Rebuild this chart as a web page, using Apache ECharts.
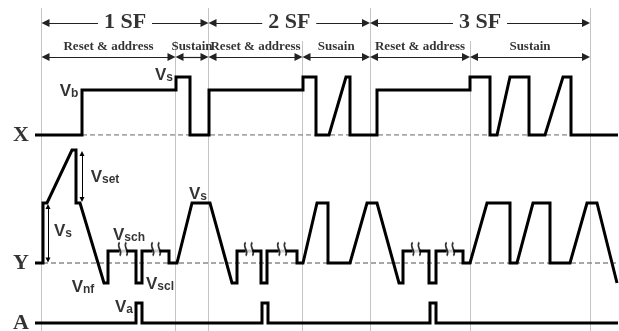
<!DOCTYPE html>
<html>
<head>
<meta charset="utf-8">
<script src="https://cdn.jsdelivr.net/npm/echarts@6/dist/echarts.min.js"></script>
<style>
html,body{margin:0;padding:0;background:#fff;}
#chart{width:619px;height:331px;}
</style>
</head>
<body>
<div id="chart"></div>
<script>
// ---------- data ----------
// time boundaries of sub-fields and phases
const sfBounds = [41.5, 208.5, 370, 590];
const sfLabels = ['1 SF', '2 SF', '3 SF'];
const phaseBounds = [41.5, 175.5, 208.5, 302.5, 370, 470, 590];
const phaseLabels = ['Reset & address', 'Sustain', 'Reset & address', 'Susain', 'Reset & address', 'Sustain'];

// X electrode waveform (time, level)
const xTimes  = [35, 82, 82, 176, 176, 190, 190, 209, 209, 303, 303, 316, 316, 329, 346, 350, 350, 377, 377, 470, 470, 490, 490, 497, 510, 529, 529, 545, 563, 571, 571, 618];
const xLevels = [0, 0, 45, 45, 58, 58, 0, 0, 45, 45, 58, 58, 0, 0, 58, 58, 0, 0, 45, 45, 58, 58, 0, 0, 58, 58, 0, 0, 58, 58, 0, 0];

// Y electrode waveform
const yTimes  = [35, 43, 43, 47, 72, 76, 76, 80, 104, 108, 108, 136, 136, 142, 142, 169, 169, 177, 192, 210, 232, 237, 237, 261, 261, 267, 267, 297, 297, 303, 317, 328, 328, 350, 367, 377, 399, 403, 403, 429, 429, 436, 436, 463, 463, 470, 487, 510, 510, 517, 533, 550, 550, 570, 587, 597, 617];
const yLevels = [0, 0, 60, 60, 113, 113, 60, 60, -20, -20, 12, 12, -20, -20, 12, 12, 0, 0, 60, 60, -20, -20, 12, 12, -20, -20, 12, 12, 0, 0, 60, 60, 0, 0, 60, 60, -20, -20, 12, 12, -20, -20, 12, 12, 0, 0, 60, 60, 0, 0, 60, 60, 0, 0, 60, 60, -20];

// A electrode waveform
const aTimes  = [35, 136, 136, 142, 142, 262, 262, 268, 268, 430, 430, 436, 436, 618];
const aLevels = [0, 0, 20, 20, 0, 0, 20, 20, 0, 0, 20, 20, 0, 0];

// break marks on the Vsch level
const breakTimes = [123, 156, 249, 282, 416, 450];
const vschLevel = 12;

// voltage labels: time, level, subscript
const xNotes = [[69, 44, 'b'], [164, 60, 's']];
const yNotes = [[105, 86, 'set'], [63, 32, 's'], [129, 28, 'sch'], [83, -24, 'nf'], [160, -21, 'scl'], [198, 69, 's']];
const aNotes = [[124, 16, 'a']];

// voltage span arrows on Y: time, level from, level to
const yArrows = [[48, 1, 58.5], [82, 61.5, 111.5]];

const signalNames = ['X', 'Y', 'A'];

// ---------- chart ----------
const zip = (t, v) => t.map((x, i) => [x, v[i]]);
const serif = 'Liberation Serif';
const sans = 'Liberation Sans';

const richV = {
  v: {fontFamily: sans, fontWeight: 'bold', fontSize: 17, lineHeight: 17, verticalAlign: 'bottom', color: '#000'},
  s: {fontFamily: sans, fontWeight: 'bold', fontSize: 12, lineHeight: 12, verticalAlign: 'bottom', color: '#000'}
};

function noteSeries(notes, idx) {
  return {
    type: 'scatter', xAxisIndex: idx, yAxisIndex: idx, symbolSize: 1, z: 10,
    itemStyle: {color: 'rgba(0,0,0,0)'},
    data: notes.map(n => ({value: [n[0], n[1]], name: n[2]})),
    label: {show: true, position: 'inside', formatter: p => '{v|V}{s|' + p.name + '}', rich: richV}
  };
}

function wave(t, v, idx) {
  return {
    type: 'line', xAxisIndex: idx, yAxisIndex: idx, data: zip(t, v), symbol: 'none', clip: false, z: 5,
    lineStyle: {color: '#000', width: 3, join: 'miter', miterLimit: 2, cap: 'butt'}
  };
}

function dashed(t0, t1, idx) {
  return {
    type: 'line', xAxisIndex: idx, yAxisIndex: idx, data: [[t0, 0], [t1, 0]], symbol: 'none', z: 2,
    lineStyle: {color: '#8a8a8a', width: 1.5, type: [5, 3]}
  };
}

const header = [];
const sfArrowData = [];
for (let i = 0; i < sfLabels.length; i++) {
  const a = sfBounds[i], b = sfBounds[i + 1], c = (a + b) / 2;
  sfArrowData.push({coords: [[c - 27, 23], [a + 4, 23]]});
  sfArrowData.push({coords: [[c + 27, 23], [b - 4, 23]]});
  header.push({value: [c, 22], name: sfLabels[i], kind: 'sf'});
}
const phaseArrowData = [];
for (let i = 0; i < phaseLabels.length; i++) {
  const a = phaseBounds[i], b = phaseBounds[i + 1];
  phaseArrowData.push({coords: [[a + 4, 57], [b - 4, 57]]});
  header.push({value: [(a + b) / 2, 46.5], name: phaseLabels[i], kind: 'ph'});
}
const guideData = phaseBounds.map(t => ({coords: [[t, sfBounds.includes(t) ? 8 : 41], [t, 331]]}));

const option = {
  animation: false,
  backgroundColor: '#fff',
  grid: [
    {left: 0, right: 0, top: 0, bottom: 0},
    {left: 0, right: 0, top: 65, height: 70},
    {left: 0, right: 0, top: 143, height: 150},
    {left: 0, right: 0, top: 293, height: 38}
  ],
  xAxis: [0, 1, 2, 3].map(i => ({type: 'value', gridIndex: i, min: 0, max: 619, show: false})),
  yAxis: [
    {type: 'value', gridIndex: 0, min: 0, max: 331, inverse: true, show: false},
    {type: 'value', gridIndex: 1, min: 0, max: 70, show: false},
    {type: 'value', gridIndex: 2, min: -30, max: 120, show: false},
    {type: 'value', gridIndex: 3, min: -8, max: 30, show: false}
  ],
  series: [
    {type: 'lines', coordinateSystem: 'cartesian2d', xAxisIndex: 0, yAxisIndex: 0, z: 1, silent: true,
     lineStyle: {color: '#c4c4c4', width: 1, opacity: 1}, symbol: 'none', data: guideData},
    {type: 'lines', coordinateSystem: 'cartesian2d', xAxisIndex: 0, yAxisIndex: 0, z: 6,
     lineStyle: {color: '#222', width: 1.2, opacity: 1}, symbol: ['none', 'triangle'], symbolSize: 8,
     itemStyle: {color: '#000'}, data: sfArrowData},
    {type: 'lines', coordinateSystem: 'cartesian2d', xAxisIndex: 0, yAxisIndex: 0, z: 6,
     lineStyle: {color: '#222', width: 1.2, opacity: 1}, symbol: ['triangle', 'triangle'], symbolSize: 8,
     itemStyle: {color: '#000'}, data: phaseArrowData},
    {type: 'scatter', xAxisIndex: 0, yAxisIndex: 0, symbolSize: 1, z: 10, itemStyle: {color: 'rgba(0,0,0,0)'},
     data: header.map(h => ({value: h.value, name: h.name, kind: h.kind})),
     label: {show: true, position: 'inside', color: '#000', fontFamily: serif, fontWeight: 'bold',
       formatter: p => (p.data.kind === 'sf' ? '{sf|' : '{ph|') + p.name + '}',
       rich: {sf: {fontSize: 22, fontFamily: serif, fontWeight: 'bold', color: '#000'},
              ph: {fontSize: 13, fontFamily: serif, fontWeight: 'bold', color: '#000'}}}},
    // signal names
    ...signalNames.map((n, i) => ({
      type: 'scatter', xAxisIndex: i + 1, yAxisIndex: i + 1, symbolSize: 1, z: 10, itemStyle: {color: 'rgba(0,0,0,0)'},
      data: [{value: [21, 0], name: n}],
      label: {show: true, position: 'inside', formatter: '{b}', fontFamily: serif, fontWeight: 'bold', fontSize: 22, color: '#000'}
    })),
    dashed(82, 618, 1),
    dashed(43, 618, 2),
    wave(xTimes, xLevels, 1),
    wave(yTimes, yLevels, 2),
    wave(aTimes, aLevels, 3),
    {type: 'lines', coordinateSystem: 'cartesian2d', xAxisIndex: 2, yAxisIndex: 2, z: 6,
     lineStyle: {color: '#000', width: 1, opacity: 1}, symbol: ['triangle', 'triangle'], symbolSize: 5,
     itemStyle: {color: '#000'},
     data: yArrows.map(a => ({coords: [[a[0], a[1] + 2], [a[0], a[2] - 2]]}))},
    {type: 'scatter', xAxisIndex: 2, yAxisIndex: 2, z: 7, symbol: 'rect', symbolSize: [7, 6],
     itemStyle: {color: '#fff'}, data: breakTimes.map(t => [t, vschLevel])},
    {type: 'scatter', xAxisIndex: 2, yAxisIndex: 2, z: 8,
     symbol: 'path://M3,0 C0,3 6,7 3,10 M8,0 C5,3 11,7 8,10', symbolSize: [9, 13], symbolOffset: [0, -2],
     itemStyle: {color: 'rgba(0,0,0,0)', borderColor: '#000', borderWidth: 2},
     data: breakTimes.map(t => [t, vschLevel])},
    noteSeries(xNotes, 1),
    noteSeries(yNotes, 2),
    noteSeries(aNotes, 3)
  ]
};

const chart = echarts.init(document.getElementById('chart'), null, {renderer: 'canvas'});
chart.setOption(option);
</script>
</body>
</html>
